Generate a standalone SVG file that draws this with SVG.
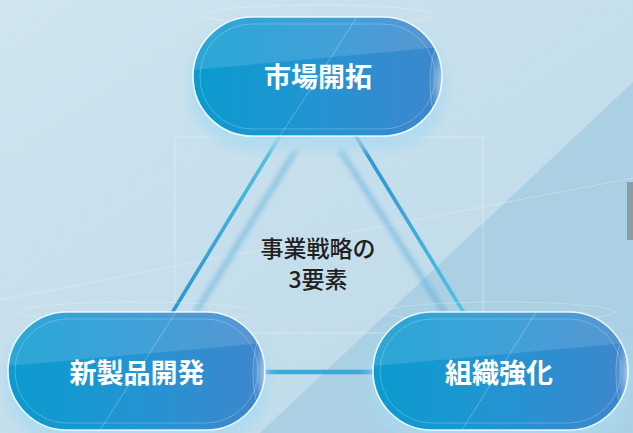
<svg xmlns="http://www.w3.org/2000/svg" width="633" height="433" viewBox="0 0 633 433">
<defs>
<linearGradient id="bg" x1="0" y1="0" x2="1" y2="1">
<stop offset="0" stop-color="#cfe4ef"/>
<stop offset="1" stop-color="#bcd9e8"/>
</linearGradient>
<linearGradient id="pill" x1="0" y1="0" x2="1" y2="0">
<stop offset="0" stop-color="#0a9bcf"/>
<stop offset="0.5" stop-color="#2394d2"/>
<stop offset="1" stop-color="#3f86cc"/>
</linearGradient>
<linearGradient id="lineL" x1="0" y1="0" x2="0" y2="1">
<stop offset="0" stop-color="#52c6e2"/>
<stop offset="1" stop-color="#2b92cf"/>
</linearGradient>
<linearGradient id="lineR" x1="0" y1="0" x2="0" y2="1">
<stop offset="0" stop-color="#2b8dcc"/>
<stop offset="1" stop-color="#52c4e2"/>
</linearGradient>
<radialGradient id="edge" cx="0.5" cy="0.5" r="0.5">
<stop offset="0" stop-color="#ffffff" stop-opacity="0.55"/>
<stop offset="1" stop-color="#ffffff" stop-opacity="0"/>
</radialGradient>
<filter id="blur" x="-50%" y="-50%" width="200%" height="200%"><feGaussianBlur stdDeviation="2.5"/></filter>
<filter id="glow" x="-20%" y="-30%" width="140%" height="160%"><feGaussianBlur stdDeviation="6"/></filter>
<clipPath id="cT"><rect x="193" y="17" width="249" height="119" rx="59.5"/></clipPath>
<clipPath id="cL"><rect x="8" y="312" width="257" height="118" rx="59"/></clipPath>
<clipPath id="cR"><rect x="373" y="312" width="255" height="118" rx="59"/></clipPath>
</defs>
<style>
.pillfill{fill:url(#pill)}
.pillline{fill:none;stroke:#ffffff;stroke-width:1.6;stroke-opacity:0.85}
.gloss{fill:#ffffff;fill-opacity:0.13}
.hl{fill:none;stroke:#ffffff;stroke-opacity:0.3;stroke-width:0.8}
.halo{fill:#a9d9f0;fill-opacity:0.75;filter:url(#glow)}
.label{font-family:"Noto Sans CJK JP","Noto Sans",sans-serif;font-weight:700;font-size:27px;fill:#ffffff;text-anchor:middle}
.center{font-family:"Noto Sans CJK JP","Noto Sans",sans-serif;font-weight:500;font-size:23px;fill:#231f20;text-anchor:middle}
.frame{fill:none;stroke:#ffffff;stroke-opacity:0.45;stroke-width:0.8}
</style>

<!-- background -->
<rect width="633" height="433" fill="url(#bg)"/>
<polygon points="633,82 633,433 260,433" fill="#a7cee2" opacity="0.85"/>
<line x1="0" y1="300" x2="633" y2="178" stroke="#ffffff" stroke-opacity="0.35" stroke-width="0.8"/>
<rect x="627" y="182" width="6" height="58" fill="#8b9ca6"/>
<rect x="175" y="137" width="308" height="196" class="frame"/>

<!-- connectors -->
<g id="connectors">
<line x1="296" y1="150" x2="196" y2="312" stroke="#3a9fd6" stroke-width="5" opacity="0.45" filter="url(#blur)"/>
<line x1="340" y1="150" x2="446" y2="315" stroke="#3a9fd6" stroke-width="5" opacity="0.45" filter="url(#blur)"/>
<line x1="268" y1="380" x2="373" y2="380" stroke="#3a9fd6" stroke-width="5" opacity="0.45" filter="url(#blur)"/>
<line x1="281" y1="134" x2="172" y2="313" stroke="url(#lineL)" stroke-width="3.6"/>
<line x1="354" y1="133" x2="464" y2="313" stroke="url(#lineR)" stroke-width="3.6"/>
<line x1="264" y1="372" x2="374" y2="372" stroke="#3aa8d8" stroke-width="4.5"/>
<rect x="376" y="373" width="14" height="17" class="frame"/>
</g>

<!-- center text -->
<g id="center-label">
<text class="center" x="318" y="257">事業戦略の</text>
<text class="center" x="318" y="288">3要素</text>
</g>

<!-- top node -->
<g id="node-market">
<rect x="189" y="22" width="257" height="128" rx="60" class="halo"/>
<ellipse cx="318" cy="15" rx="115" ry="10" class="hl"/>
<rect x="193" y="17" width="249" height="119" rx="59.5" class="pillfill"/>
<g clip-path="url(#cT)">
<polygon points="193,17 442,17 442,47 193,70" class="gloss"/>
<line x1="357" y1="17" x2="280" y2="136" stroke="#ffffff" stroke-opacity="0.35" stroke-width="0.8"/>
<ellipse cx="442" cy="83" rx="12" ry="40" fill="url(#edge)" stroke="#ffffff" stroke-opacity="0.4" stroke-width="0.8"/>
<rect x="200" y="24" width="235" height="105" rx="52" class="hl"/>
</g>
<rect x="193" y="17" width="249" height="119" rx="59.5" class="pillline"/>
<text class="label" x="318" y="87">市場開拓</text>
</g>

<!-- bottom-left node -->
<g id="node-product">
<rect x="4" y="318" width="265" height="125" rx="60" class="halo"/>
<ellipse cx="136" cy="312" rx="115" ry="10" class="hl"/>
<rect x="8" y="312" width="257" height="118" rx="59" class="pillfill"/>
<g clip-path="url(#cL)">
<polygon points="8,312 265,312 265,343 8,366" class="gloss"/>
<line x1="176" y1="312" x2="100" y2="430" stroke="#ffffff" stroke-opacity="0.35" stroke-width="0.8"/>
<ellipse cx="265" cy="373" rx="12" ry="40" fill="url(#edge)" stroke="#ffffff" stroke-opacity="0.4" stroke-width="0.8"/>
<rect x="15" y="319" width="243" height="104" rx="52" class="hl"/>
</g>
<rect x="8" y="312" width="257" height="118" rx="59" class="pillline"/>
<text class="label" x="137" y="383">新製品開発</text>
</g>

<!-- bottom-right node -->
<g id="node-org">
<rect x="369" y="318" width="263" height="125" rx="60" class="halo"/>
<ellipse cx="500" cy="312" rx="115" ry="10" class="hl"/>
<rect x="373" y="312" width="255" height="118" rx="59" class="pillfill"/>
<g clip-path="url(#cR)">
<polygon points="373,312 628,312 628,343 373,366" class="gloss"/>
<line x1="536" y1="312" x2="462" y2="430" stroke="#ffffff" stroke-opacity="0.35" stroke-width="0.8"/>
<ellipse cx="628" cy="373" rx="12" ry="40" fill="url(#edge)" stroke="#ffffff" stroke-opacity="0.4" stroke-width="0.8"/>
<rect x="380" y="319" width="241" height="104" rx="52" class="hl"/>
</g>
<rect x="373" y="312" width="255" height="118" rx="59" class="pillline"/>
<text class="label" x="499" y="383">組織強化</text>
</g>
</svg>
